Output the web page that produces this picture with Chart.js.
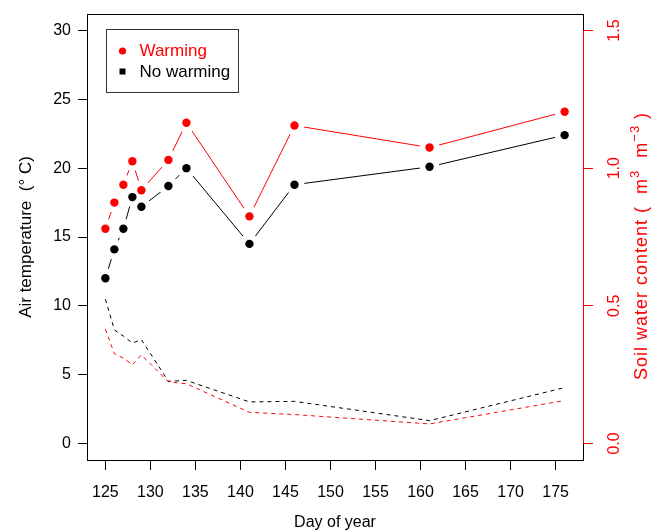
<!DOCTYPE html>
<html lang="en">
<head>
<meta charset="UTF-8">
<title>Air temperature and soil water content</title>
<script src="https://cdn.jsdelivr.net/npm/chart.js"></script>
<style>
  html, body { margin: 0; padding: 0; background: #fff; }
  canvas { display: block; }
</style>
</head>
<body>
<canvas id="chart" width="653" height="532"></canvas>
<script>
// day of year of each measurement
const days = [125, 126, 127, 128, 129, 132, 134, 141, 146, 161, 176];

// air temperature (deg C), left axis
const airWarming   = [15.6, 17.5, 18.8, 20.5, 18.4, 20.6, 23.3, 16.5, 23.1, 21.5, 24.1];
const airNoWarming = [12.0, 14.1, 15.6, 17.9, 17.2, 18.7, 20.0, 14.5, 18.8, 20.1, 22.4];

// soil water content (m3 m-3), right axis
const soilWarming   = [0.415, 0.326, 0.310, 0.286, 0.322, 0.224, 0.217, 0.113, 0.105, 0.071, 0.156];
const soilNoWarming = [0.524, 0.413, 0.390, 0.365, 0.377, 0.226, 0.229, 0.151, 0.153, 0.083, 0.203];

const dayTicks  = [125, 130, 135, 140, 145, 150, 155, 160, 165, 170, 175];
const airTicks  = [0, 5, 10, 15, 20, 25, 30];
const soilTicks = [0, 0.5, 1.0, 1.5];

const RED = '#ff0000';
const FONT = '"Liberation Sans", Arial, sans-serif';

Chart.defaults.font.family = FONT;
Chart.defaults.font.size = 16;
Chart.defaults.color = '#000';

function pts(ys) {
    return days.map((d, i) => ({ x: d, y: ys[i] }));
}

function setTicks(values) {
    return scale => { scale.ticks = values.map(v => ({ value: v })); };
}

// R type="b": leave a gap in the line around each of its own points
const lineGaps = {
    id: 'lineGaps',
    afterDatasetDraw(chart, args) {
        const ds = chart.data.datasets[args.index];
        if (!ds.gap) return;
        const ctx = chart.ctx;
        ctx.save();
        ctx.globalCompositeOperation = 'destination-out';
        ctx.beginPath();
        args.meta.data.forEach(p => {
            ctx.moveTo(p.x + ds.gap, p.y);
            ctx.arc(p.x, p.y, ds.gap, 0, Math.PI * 2);
        });
        ctx.fill();
        ctx.restore();
    }
};

// box, red right axis, its labels and title, legend
const extras = {
    id: 'extras',
    afterDraw(chart) {
        const { ctx, chartArea: a } = chart;
        const y2 = chart.scales.y2;
        ctx.save();

        // plot box
        ctx.strokeStyle = '#000';
        ctx.lineWidth = 1;
        ctx.strokeRect(Math.round(a.left) + 0.5, Math.round(a.top) + 0.5,
            Math.round(a.right - a.left), Math.round(a.bottom - a.top));

        // right axis line
        const rx = Math.round(a.right) + 0.5;
        ctx.strokeStyle = RED;
        ctx.beginPath();
        ctx.moveTo(rx, y2.getPixelForValue(soilTicks[0]));
        ctx.lineTo(rx, y2.getPixelForValue(soilTicks[soilTicks.length - 1]));
        ctx.stroke();

        // right tick labels, rotated like R's side 4
        ctx.fillStyle = RED;
        ctx.font = '16px ' + FONT;
        ctx.textAlign = 'center';
        ctx.textBaseline = 'middle';
        soilTicks.forEach(v => {
            ctx.save();
            ctx.translate(a.right + 32, y2.getPixelForValue(v));
            ctx.rotate(-Math.PI / 2);
            ctx.fillText(v.toFixed(1), 0, 0);
            ctx.restore();
        });

        // right axis title with superscripts
        const parts = [
            ['Soil water content (  m', 18, 0],
            ['3', 13, -7],
            ['  m', 18, 0],
            ['\u22123', 13, -7],
            [' )', 18, 0]
        ];
        ctx.save();
        ctx.translate(a.right + 59, 380);
        ctx.rotate(-Math.PI / 2);
        ctx.textAlign = 'left';
        ctx.letterSpacing = '1px';
        let px = 0;
        parts.forEach(p => {
            ctx.font = p[1] + 'px ' + FONT;
            ctx.fillText(p[0], px, p[2]);
            px += ctx.measureText(p[0]).width;
        });
        ctx.restore();

        // legend
        const lx = Math.round(a.left) + 19.5, ly = Math.round(a.top) + 15.5;
        ctx.strokeStyle = '#333';
        ctx.strokeRect(lx, ly, 132, 63);
        ctx.font = '17px ' + FONT;
        ctx.textAlign = 'left';
        ctx.fillStyle = RED;
        ctx.beginPath();
        ctx.arc(lx + 16, ly + 21.5, 3.6, 0, Math.PI * 2);
        ctx.fill();
        ctx.fillText('Warming', lx + 33, ly + 22);
        ctx.fillStyle = '#000';
        ctx.fillRect(lx + 13, ly + 39, 6, 6);
        ctx.fillText('No warming', lx + 33, ly + 42.5);

        ctx.restore();
    }
};

new Chart(document.getElementById('chart'), {
    type: 'line',
    data: {
        datasets: [
            { data: pts(airWarming), borderColor: RED, borderWidth: 1, pointRadius: 0, gap: 10, order: 3, yAxisID: 'y' },
            { data: pts(airNoWarming), borderColor: '#000', borderWidth: 1, pointRadius: 0, gap: 10, order: 3, yAxisID: 'y' },
            { data: pts(soilWarming), borderColor: RED, borderWidth: 1, borderDash: [4, 4], pointRadius: 0, order: 2, yAxisID: 'y2' },
            { data: pts(soilNoWarming), borderColor: '#000', borderWidth: 1, borderDash: [4, 4], pointRadius: 0, order: 2, yAxisID: 'y2' },
            { label: 'Warming', data: pts(airWarming), showLine: false, pointRadius: 4.2, pointBackgroundColor: RED, pointBorderWidth: 0, order: 1, yAxisID: 'y' },
            { label: 'No warming', data: pts(airNoWarming), showLine: false, pointRadius: 4.2, pointBackgroundColor: '#000', pointBorderWidth: 0, order: 1, yAxisID: 'y' }
        ]
    },
    options: {
        responsive: false,
        devicePixelRatio: 1,
        animation: false,
        layout: { padding: { top: 14, left: 0, right: 0, bottom: 0 } },
        elements: { line: { tension: 0 } },
        plugins: { legend: { display: false }, tooltip: { enabled: false } },
        scales: {
            x: {
                type: 'linear',
                min: 122.96,
                max: 178.04,
                afterBuildTicks: setTicks(dayTicks),
                afterFit: s => { s.height = 72; s.paddingLeft = 0; s.paddingRight = 0; },
                grid: { drawOnChartArea: false, drawTicks: true, tickLength: 10, color: '#000' },
                border: { display: false },
                ticks: { padding: 13, maxRotation: 0, autoSkip: false, color: '#000' },
                title: { display: true, text: 'Day of year', padding: { top: -2, bottom: 0 }, color: '#000' }
            },
            y: {
                position: 'left',
                min: -1.2,
                max: 31.2,
                afterBuildTicks: setTicks(airTicks),
                afterFit: s => { s.width = 87; s.paddingTop = 0; s.paddingBottom = 0; },
                grid: { drawOnChartArea: false, drawTicks: true, tickLength: 9, color: '#000' },
                border: { display: false },
                ticks: { padding: 7, color: '#000' },
                title: { display: true, text: 'Air temperature  (\u00b0 C)', font: { size: 17 }, padding: { top: 16, bottom: 0 }, color: '#000' }
            },
            y2: {
                position: 'right',
                min: -0.06,
                max: 1.56,
                afterBuildTicks: setTicks(soilTicks),
                afterFit: s => { s.width = 70; s.paddingTop = 0; s.paddingBottom = 0; },
                grid: { drawOnChartArea: false, drawTicks: true, tickLength: 10, color: RED },
                border: { display: false },
                ticks: { display: false }
            }
        }
    },
    plugins: [lineGaps, extras]
});
</script>
</body>
</html>
